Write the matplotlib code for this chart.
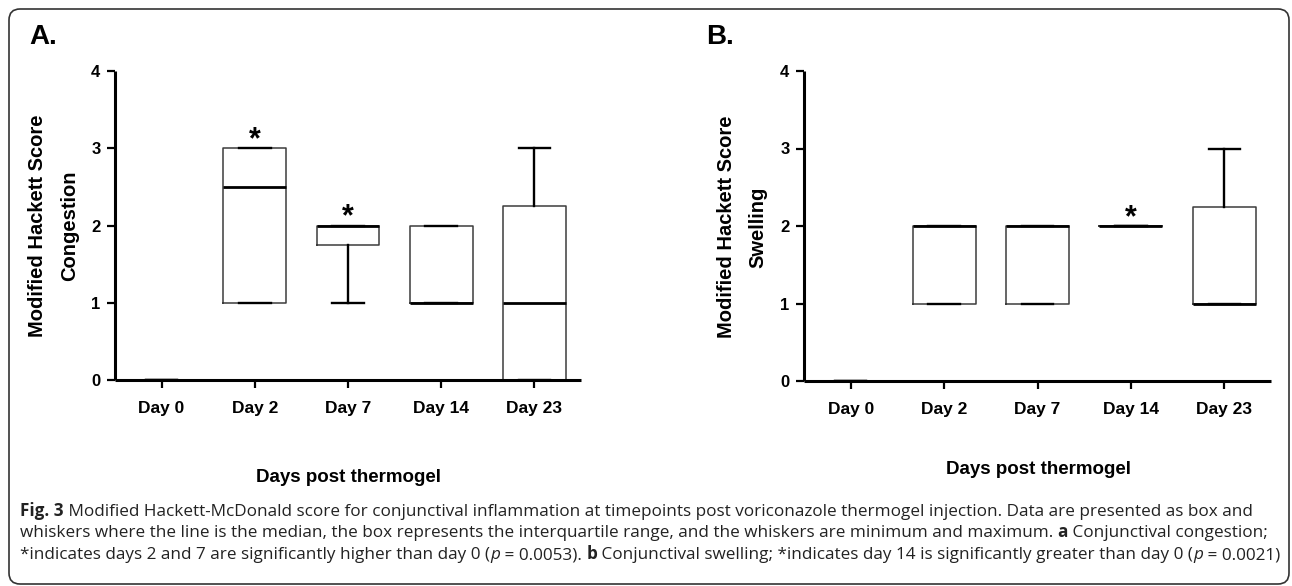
import matplotlib
matplotlib.use("Agg")
import matplotlib.pyplot as plt
from matplotlib.patches import FancyBboxPatch

# ---------------- data ----------------
days = ["Day 0", "Day 2", "Day 7", "Day 14", "Day 23"]

cong_min = [0, 1, 1, 1, 0]
cong_q1 = [0, 1, 1.75, 1, 0]
cong_med = [0, 2.5, 2, 1, 1]
cong_q3 = [0, 3, 2, 2, 2.25]
cong_max = [0, 3, 2, 2, 3]
cong_sig = [False, True, True, False, False]

swell_min = [0, 1, 1, 2, 1]
swell_q1 = [0, 1, 1, 2, 1]
swell_med = [0, 2, 2, 2, 1]
swell_q3 = [0, 2, 2, 2, 2.25]
swell_max = [0, 2, 2, 2, 3]
swell_sig = [False, False, False, True, False]

y_ticks = [0, 1, 2, 3, 4]
x_label = "Days post thermogel"
y_label_top = "Modified Hackett Score"
y_label_a = "Congestion"
y_label_b = "Swelling"

caption_lines = [
    [("Fig. 3", "bold", "normal"),
     (" Modified Hackett-McDonald score for conjunctival inflammation at timepoints post voriconazole thermogel injection. Data are presented as box and", "normal", "normal")],
    [("whiskers where the line is the median, the box represents the interquartile range, and the whiskers are minimum and maximum. ", "normal", "normal"),
     ("a", "bold", "normal"),
     (" Conjunctival congestion;", "normal", "normal")],
    [("*indicates days 2 and 7 are significantly higher than day 0 (", "normal", "normal"),
     ("p", "normal", "italic"),
     (" = 0.0053). ", "normal", "normal"),
     ("b", "bold", "normal"),
     (" Conjunctival swelling; *indicates day 14 is significantly greater than day 0 (", "normal", "normal"),
     ("p", "normal", "italic"),
     (" = 0.0021)", "normal", "normal")],
]

# ---------------- figure ----------------
W, H = 1292, 586
DPI = 100
plt.rcParams['font.family'] = ['Liberation Sans', 'DejaVu Sans']
fig = plt.figure(figsize=(W / DPI, H / DPI), dpi=DPI)
fig.patch.set_facecolor("white")


def px_rect(left, top, right, bottom):
    return [left / W, 1 - bottom / H, (right - left) / W, (bottom - top) / H]


def make_panel(rect, mins, q1s, meds, q3s, maxs, sig):
    ax = fig.add_axes(rect)
    stats = []
    for i in range(len(days)):
        stats.append(dict(whislo=mins[i], q1=q1s[i], med=meds[i], q3=q3s[i],
                          whishi=maxs[i], fliers=[], label=days[i]))
    ax.bxp(stats, positions=list(range(len(days))), widths=0.675,
           showfliers=False, patch_artist=False,
           boxprops=dict(color="#3c3c3c", linewidth=1.1),
           medianprops=dict(color="black", linewidth=2.0),
           whiskerprops=dict(color="black", linewidth=1.7),
           capprops=dict(color="black", linewidth=1.7))
    ax.set_xlim(-0.5, len(days) - 0.5)
    ax.set_ylim(0, 4)
    ax.set_yticks(y_ticks)
    ax.set_yticklabels([str(v) for v in y_ticks], fontsize=12, fontweight="bold")
    ax.set_xticks(range(len(days)))
    ax.set_xticklabels(days, fontsize=12.5, fontweight="bold")
    for s in ["top", "right"]:
        ax.spines[s].set_visible(False)
    for s in ["left", "bottom"]:
        ax.spines[s].set_linewidth(2.2)
        ax.spines[s].set_capstyle("butt")
    ax.tick_params(axis="x", direction="out", length=6, width=1.6, pad=9)
    ax.tick_params(axis="y", direction="out", length=5.5, width=1.6, pad=5)
    for i in range(len(days)):
        if sig[i]:
            ax.annotate("*", xy=(i, maxs[i]), xytext=(0, 0),
                        textcoords="offset points", ha="center", va="baseline",
                        fontsize=22, fontweight="bold")
    ax.patch.set_alpha(0)
    return ax


axA = make_panel(px_rect(115, 71, 581, 380), cong_min, cong_q1, cong_med,
                 cong_q3, cong_max, cong_sig)
axB = make_panel(px_rect(804, 71, 1271, 381), swell_min, swell_q1, swell_med,
                 swell_q3, swell_max, swell_sig)


def ftext(xpx, ypx, s, **kw):
    return fig.text(xpx / W, 1 - ypx / H, s, **kw)


# panel letters
ftext(29, 37, "A.", fontsize=20, fontweight="bold", ha="left", va="center")
ftext(706, 37, "B.", fontsize=20, fontweight="bold", ha="left", va="center")

# y labels
ftext(38, 226, y_label_top, fontsize=14.5, fontweight="bold", rotation=90,
      ha="center", va="center")
ftext(70, 226, y_label_a, fontsize=14.5, fontweight="bold", rotation=90,
      ha="center", va="center")
ftext(726, 227, y_label_top, fontsize=14.5, fontweight="bold", rotation=90,
      ha="center", va="center")
ftext(758, 227, y_label_b, fontsize=14.5, fontweight="bold", rotation=90,
      ha="center", va="center")

# x labels
ftext(349, 477, x_label, fontsize=13.5, fontweight="bold", ha="center", va="center")
ftext(1038, 469, x_label, fontsize=13.5, fontweight="bold", ha="center", va="center")

# border
border = FancyBboxPatch((9 / DPI, (H - 584) / DPI), (1289 - 9) / DPI, (584 - 9) / DPI,
                        boxstyle="round,pad=0,rounding_size=0.11",
                        transform=fig.dpi_scale_trans, fill=False,
                        edgecolor="#333333", linewidth=1.2)
fig.add_artist(border)

# caption with mixed styles
renderer = fig.canvas.get_renderer()
cap_family = ['Open Sans', 'DejaVu Sans']


def run_width(s, size, weight, style):
    t1 = fig.text(0, 0, "|" + s + "|", fontsize=size, fontweight=weight,
                  fontstyle=style, family=cap_family)
    w1 = t1.get_window_extent(renderer).width
    t1.remove()
    t2 = fig.text(0, 0, "||", fontsize=size, fontweight=weight,
                  fontstyle=style, family=cap_family)
    w2 = t2.get_window_extent(renderer).width
    t2.remove()
    return w1 - w2


def line_width(runs, size):
    return sum(run_width(s, size, w, st) for s, w, st in runs)


base_size = 10.0
target = 1283 - 20
cap_size = base_size * target / line_width(caption_lines[2], base_size)
baselines = [516, 537, 559]
for runs, yb in zip(caption_lines, baselines):
    x = 20.0
    for s, w, st in runs:
        fig.text(x / W, 1 - yb / H, s, fontsize=cap_size, fontweight=w,
                 fontstyle=st, family=cap_family, ha="left", va="baseline",
                 color="#222222")
        x += run_width(s, cap_size, w, st)

fig.savefig("out.png", dpi=DPI, facecolor="white")
